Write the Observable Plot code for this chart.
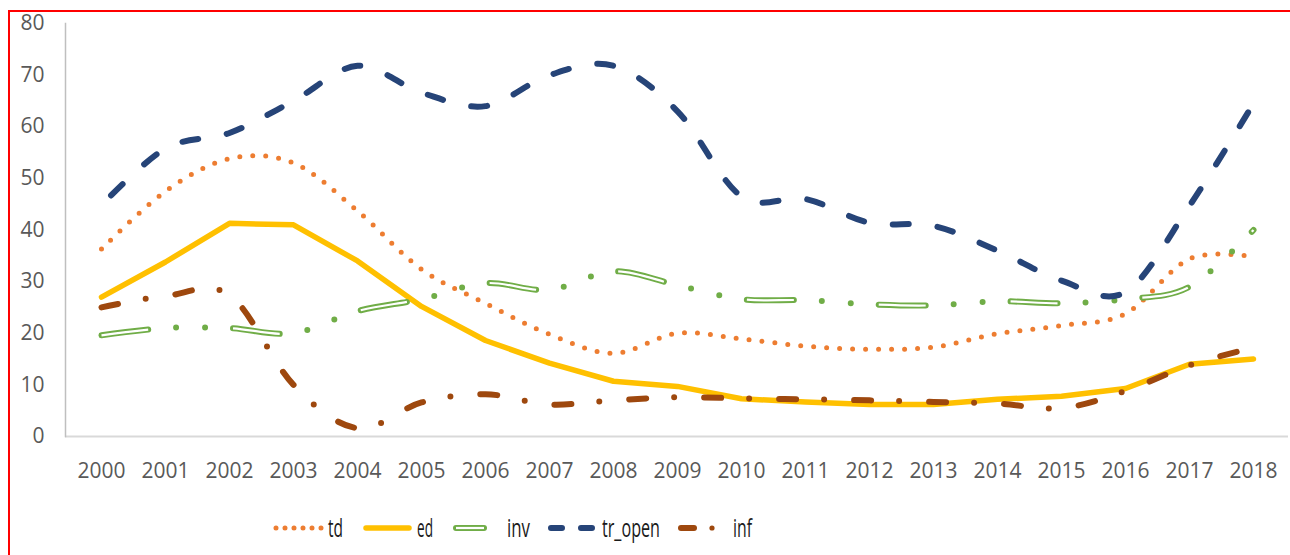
<!DOCTYPE html>
<html>
<head>
<meta charset="utf-8">
<script src="https://cdn.jsdelivr.net/npm/d3@7"></script>
<script src="https://cdn.jsdelivr.net/npm/@observablehq/plot@0.6"></script>
<style>
  html, body { margin: 0; padding: 0; background: #fff; }
  body { width: 1290px; height: 555px; overflow: hidden; position: relative; font-family: "Open Sans", sans-serif; }
  #frame { position: absolute; left: 8px; top: 10px; width: 1300px; height: 600px; border-left: 2px solid #ff0000; border-top: 2px solid #ff0000; pointer-events: none; }
  #chart svg { display: block; }
  #legend { display: block; }
</style>
</head>
<body>
<div id="chart"></div>
<div id="legendWrap"></div>
<div id="frame"></div>
<script>
const years = ["2000","2001","2002","2003","2004","2005","2006","2007","2008","2009","2010","2011","2012","2013","2014","2015","2016","2017","2018"];
const td      = [36.3, 47.5, 53.8, 53.0, 43.7, 32.4, 25.8, 19.8, 16.1, 20.0, 18.9, 17.5, 16.9, 17.3, 19.9, 21.5, 23.8, 34.4, 34.8];
const ed      = [27.0, 33.8, 41.3, 41.0, 34.0, 25.2, 18.6, 14.2, 10.7, 9.7, 7.3, 6.7, 6.2, 6.2, 7.2, 7.8, 9.3, 14.0, 15.0];
const inv     = [19.6, 21.0, 21.0, 20.0, 24.3, 26.6, 29.7, 28.4, 32.0, 29.3, 26.6, 26.4, 25.6, 25.4, 26.2, 25.8, 26.6, 29.0, 40.0];
const tr_open = [44.8, 55.8, 58.8, 65.0, 71.8, 66.6, 64.0, 70.0, 71.8, 63.0, 46.5, 46.0, 41.4, 40.8, 36.0, 30.2, 28.0, 44.7, 64.5];
const inf     = [25.0, 27.2, 27.4, 10.0, 1.6, 6.6, 8.2, 6.2, 7.0, 7.6, 7.4, 7.2, 7.0, 6.7, 6.4, 5.5, 8.8, 13.8, 17.2];
const yTicks  = [0, 10, 20, 30, 40, 50, 60, 70, 80];
const seriesNames = ["td", "ed", "inv", "tr_open", "inf"];
const colors = {td: "#ED7D31", ed: "#FFC000", inv: "#70AD47", tr_open: "#264478", inf: "#9E480E"};

const rows = (arr) => years.map((year, i) => ({year, value: arr[i]}));
const smooth = {curve: "cardinal", tension: 0};

const chart = Plot.plot({
  width: 1290,
  height: 490,
  marginLeft: 65,
  marginRight: 2,
  marginTop: 23,
  marginBottom: 54,
  style: {fontFamily: "'Open Sans', sans-serif", fontSize: "21px", color: "#595959", background: "transparent"},
  x: {type: "point", domain: years, padding: 0.5, label: null},
  y: {domain: [0, 80], label: null},
  marks: [
    Plot.ruleY([0], {stroke: "#D9D9D9", strokeWidth: 2}),
    Plot.frame({anchor: "left", stroke: "#BFBFBF", strokeWidth: 1.5}),
    Plot.axisY(yTicks, {tickSize: 0, tickPadding: 21, fontSize: 21, fill: "#595959", label: null}),
    Plot.axisX(years, {tickSize: 0, tickPadding: 27, fontSize: 21, fill: "#595959", label: null}),
    // td: round dots
    Plot.line(rows(td), {x: "year", y: "value", ...smooth, stroke: colors.td, strokeWidth: 5, strokeLinecap: "round", strokeDasharray: "0 13"}),
    // ed: solid
    Plot.line(rows(ed), {x: "year", y: "value", curve: "linear", stroke: colors.ed, strokeWidth: 5.5, strokeLinecap: "round", strokeLinejoin: "round"}),
    // inv: double line, long dash dot dot
    Plot.line(rows(inv), {x: "year", y: "value", ...smooth, stroke: colors.inv, strokeWidth: 6, strokeLinecap: "round", strokeDasharray: "47 28 0 29 0 28"}),
    Plot.line(rows(inv), {x: "year", y: "value", ...smooth, stroke: "#ffffff", strokeWidth: 2.2, strokeLinecap: "butt", strokeDasharray: "47 85"}),
    // tr_open: dashed
    Plot.line(rows(tr_open), {x: "year", y: "value", ...smooth, stroke: colors.tr_open, strokeWidth: 6, strokeLinecap: "round", strokeDasharray: "16 29", strokeDashoffset: -14}),
    // inf: dash dot
    Plot.line(rows(inf), {x: "year", y: "value", ...smooth, stroke: colors.inf, strokeWidth: 6, strokeLinecap: "round", strokeDasharray: "17 28 0 30"})
  ]
});
document.getElementById("chart").appendChild(chart);

// Legend below the chart
const lg = d3.select("#legendWrap").append("svg")
  .attr("id", "legend").attr("width", 1290).attr("height", 65);
const ly = 38;
const items = [
  {name: "td", x0: 276, x1: 321, tx: 328, tw: 15},
  {name: "ed", x0: 366, x1: 409, tx: 417, tw: 16},
  {name: "inv", x0: 456, x1: 484, tx: 507, tw: 23},
  {name: "tr_open", x0: 551, x1: 592, tx: 602, tw: 58},
  {name: "inf", x0: 681, x1: 694, tx: 733, tw: 19}
];
items.forEach(it => {
  const g = lg.append("g");
  const n = it.name;
  if (n === "td") {
    g.append("line").attr("x1", it.x0).attr("x2", it.x1 + 0.1).attr("y1", ly).attr("y2", ly)
      .attr("stroke", colors.td).attr("stroke-width", 5).attr("stroke-linecap", "round").attr("stroke-dasharray", "0 9");
  } else if (n === "ed") {
    g.append("line").attr("x1", it.x0).attr("x2", it.x1).attr("y1", ly).attr("y2", ly)
      .attr("stroke", colors.ed).attr("stroke-width", 5.5).attr("stroke-linecap", "round");
  } else if (n === "inv") {
    g.append("line").attr("x1", it.x0).attr("x2", it.x1).attr("y1", ly).attr("y2", ly)
      .attr("stroke", colors.inv).attr("stroke-width", 6).attr("stroke-linecap", "round");
    g.append("line").attr("x1", it.x0).attr("x2", it.x1).attr("y1", ly).attr("y2", ly)
      .attr("stroke", "#fff").attr("stroke-width", 2.2);
  } else if (n === "tr_open") {
    g.append("line").attr("x1", it.x0).attr("x2", it.x1).attr("y1", ly).attr("y2", ly)
      .attr("stroke", colors.tr_open).attr("stroke-width", 6).attr("stroke-linecap", "round").attr("stroke-dasharray", "11 19");
  } else if (n === "inf") {
    g.append("line").attr("x1", it.x0).attr("x2", it.x1).attr("y1", ly).attr("y2", ly)
      .attr("stroke", colors.inf).attr("stroke-width", 6).attr("stroke-linecap", "round");
    g.append("circle").attr("cx", 712).attr("cy", ly).attr("r", 2.6).attr("fill", colors.inf);
  }
  g.append("text").attr("x", it.tx).attr("y", ly).attr("dy", "0.36em")
    .attr("font-family", "'Open Sans', sans-serif")
    .attr("font-size", 25).attr("fill", "#1a1a1a")
    .attr("textLength", it.tw).attr("lengthAdjust", "spacingAndGlyphs")
    .text(n);
});
</script>
</body>
</html>
